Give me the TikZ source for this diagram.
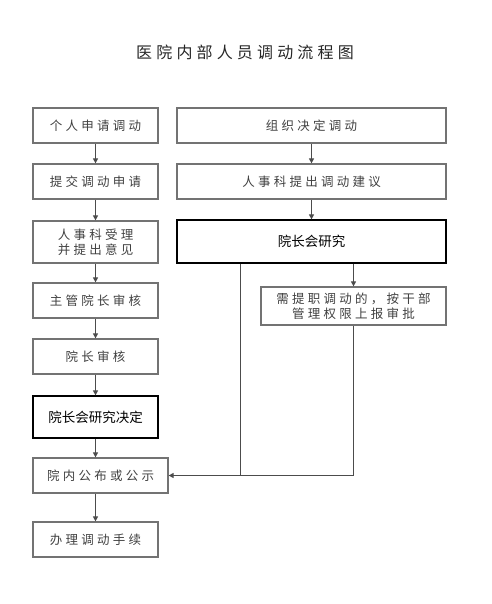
\documentclass[tikz,border=0pt]{standalone}
\usepackage{fontspec}
\usepackage{tikz}
\usetikzlibrary{arrows.meta, positioning, calc}
\newfontfamily\cjk[LetterSpace=26]{Noto Sans CJK SC}
\newfontfamily\cjkplain{Noto Sans CJK SC}

\begin{document}
\begin{tikzpicture}[
    x=1pt, y=-1pt,
    box/.style={draw=black!55, line width=1.2pt, minimum width=125pt,
                minimum height=35pt, align=center, inner sep=0pt,
                font=\cjk\fontsize{12.5}{15}\selectfont, text=black!75},
    keybox/.style={box, draw=black, text=black,
                   font=\cjkplain\fontsize{13.5}{16}\selectfont},
    arrow/.style={-{Triangle[length=5pt, width=5pt]}, draw=black!70, line width=0.9pt},
    line/.style={draw=black!70, line width=0.9pt}
]
\useasboundingbox (0,0) rectangle (491,604);

% Title
\node[font=\cjk\fontsize{16}{18}\selectfont, text=black!85] (title) at (245,52)
    {医院内部人员调动流程图};

% Left column: individual application
\node[box] (apply) at (95.5,125.5) {个人申请调动};
\node[box] (submit) at (95.5,181.5) {提交调动申请};
\node[box, minimum height=42pt] (accept) at (95.5,242)
    {人事科受理\\并提出意见};
\node[box] (vice) at (95.5,300.5) {主管院长审核};
\node[box] (dean) at (95.5,356.5) {院长审核};
\node[keybox, minimum height=42pt] (decide) at (95.5,417) {院长会研究决定};
\node[box, minimum width=135pt] (publish) at (100.5,475.5) {院内公布或公示};
\node[box] (handle) at (95.5,539.5) {办理调动手续};

% Right column: organisation decision
\node[box, minimum width=269pt] (org) at (311.5,125.5) {组织决定调动};
\node[box, minimum width=269pt] (hr) at (311.5,181.5) {人事科提出调动建议};
\node[keybox, minimum width=269pt, minimum height=43pt] (meeting) at (311.5,241.5)
    {院长会研究};
\node[box, minimum width=185pt, minimum height=38pt] (report) at (353.5,306)
    {需提职调动的，按干部\\管理权限上报审批};

% Arrows
\draw[arrow] (apply) -- (submit);
\draw[arrow] (submit) -- (accept);
\draw[arrow] (accept) -- (vice);
\draw[arrow] (vice) -- (dean);
\draw[arrow] (dean) -- (decide);
\draw[arrow] (decide.south) -- (decide.south |- publish.north);
\draw[arrow] (publish.south -| handle.north) -- (handle.north);

\draw[arrow] (org) -- (hr);
\draw[arrow] (hr) -- (meeting);
\draw[arrow] (meeting.south -| report.north) -- (report.north);
\draw[arrow] (report.south) |- (publish.east);
\draw[line] ([xshift=-71.5pt]meeting.south) -- ([xshift=-71.5pt]meeting.south |- publish.east);

\end{tikzpicture}
\end{document}
